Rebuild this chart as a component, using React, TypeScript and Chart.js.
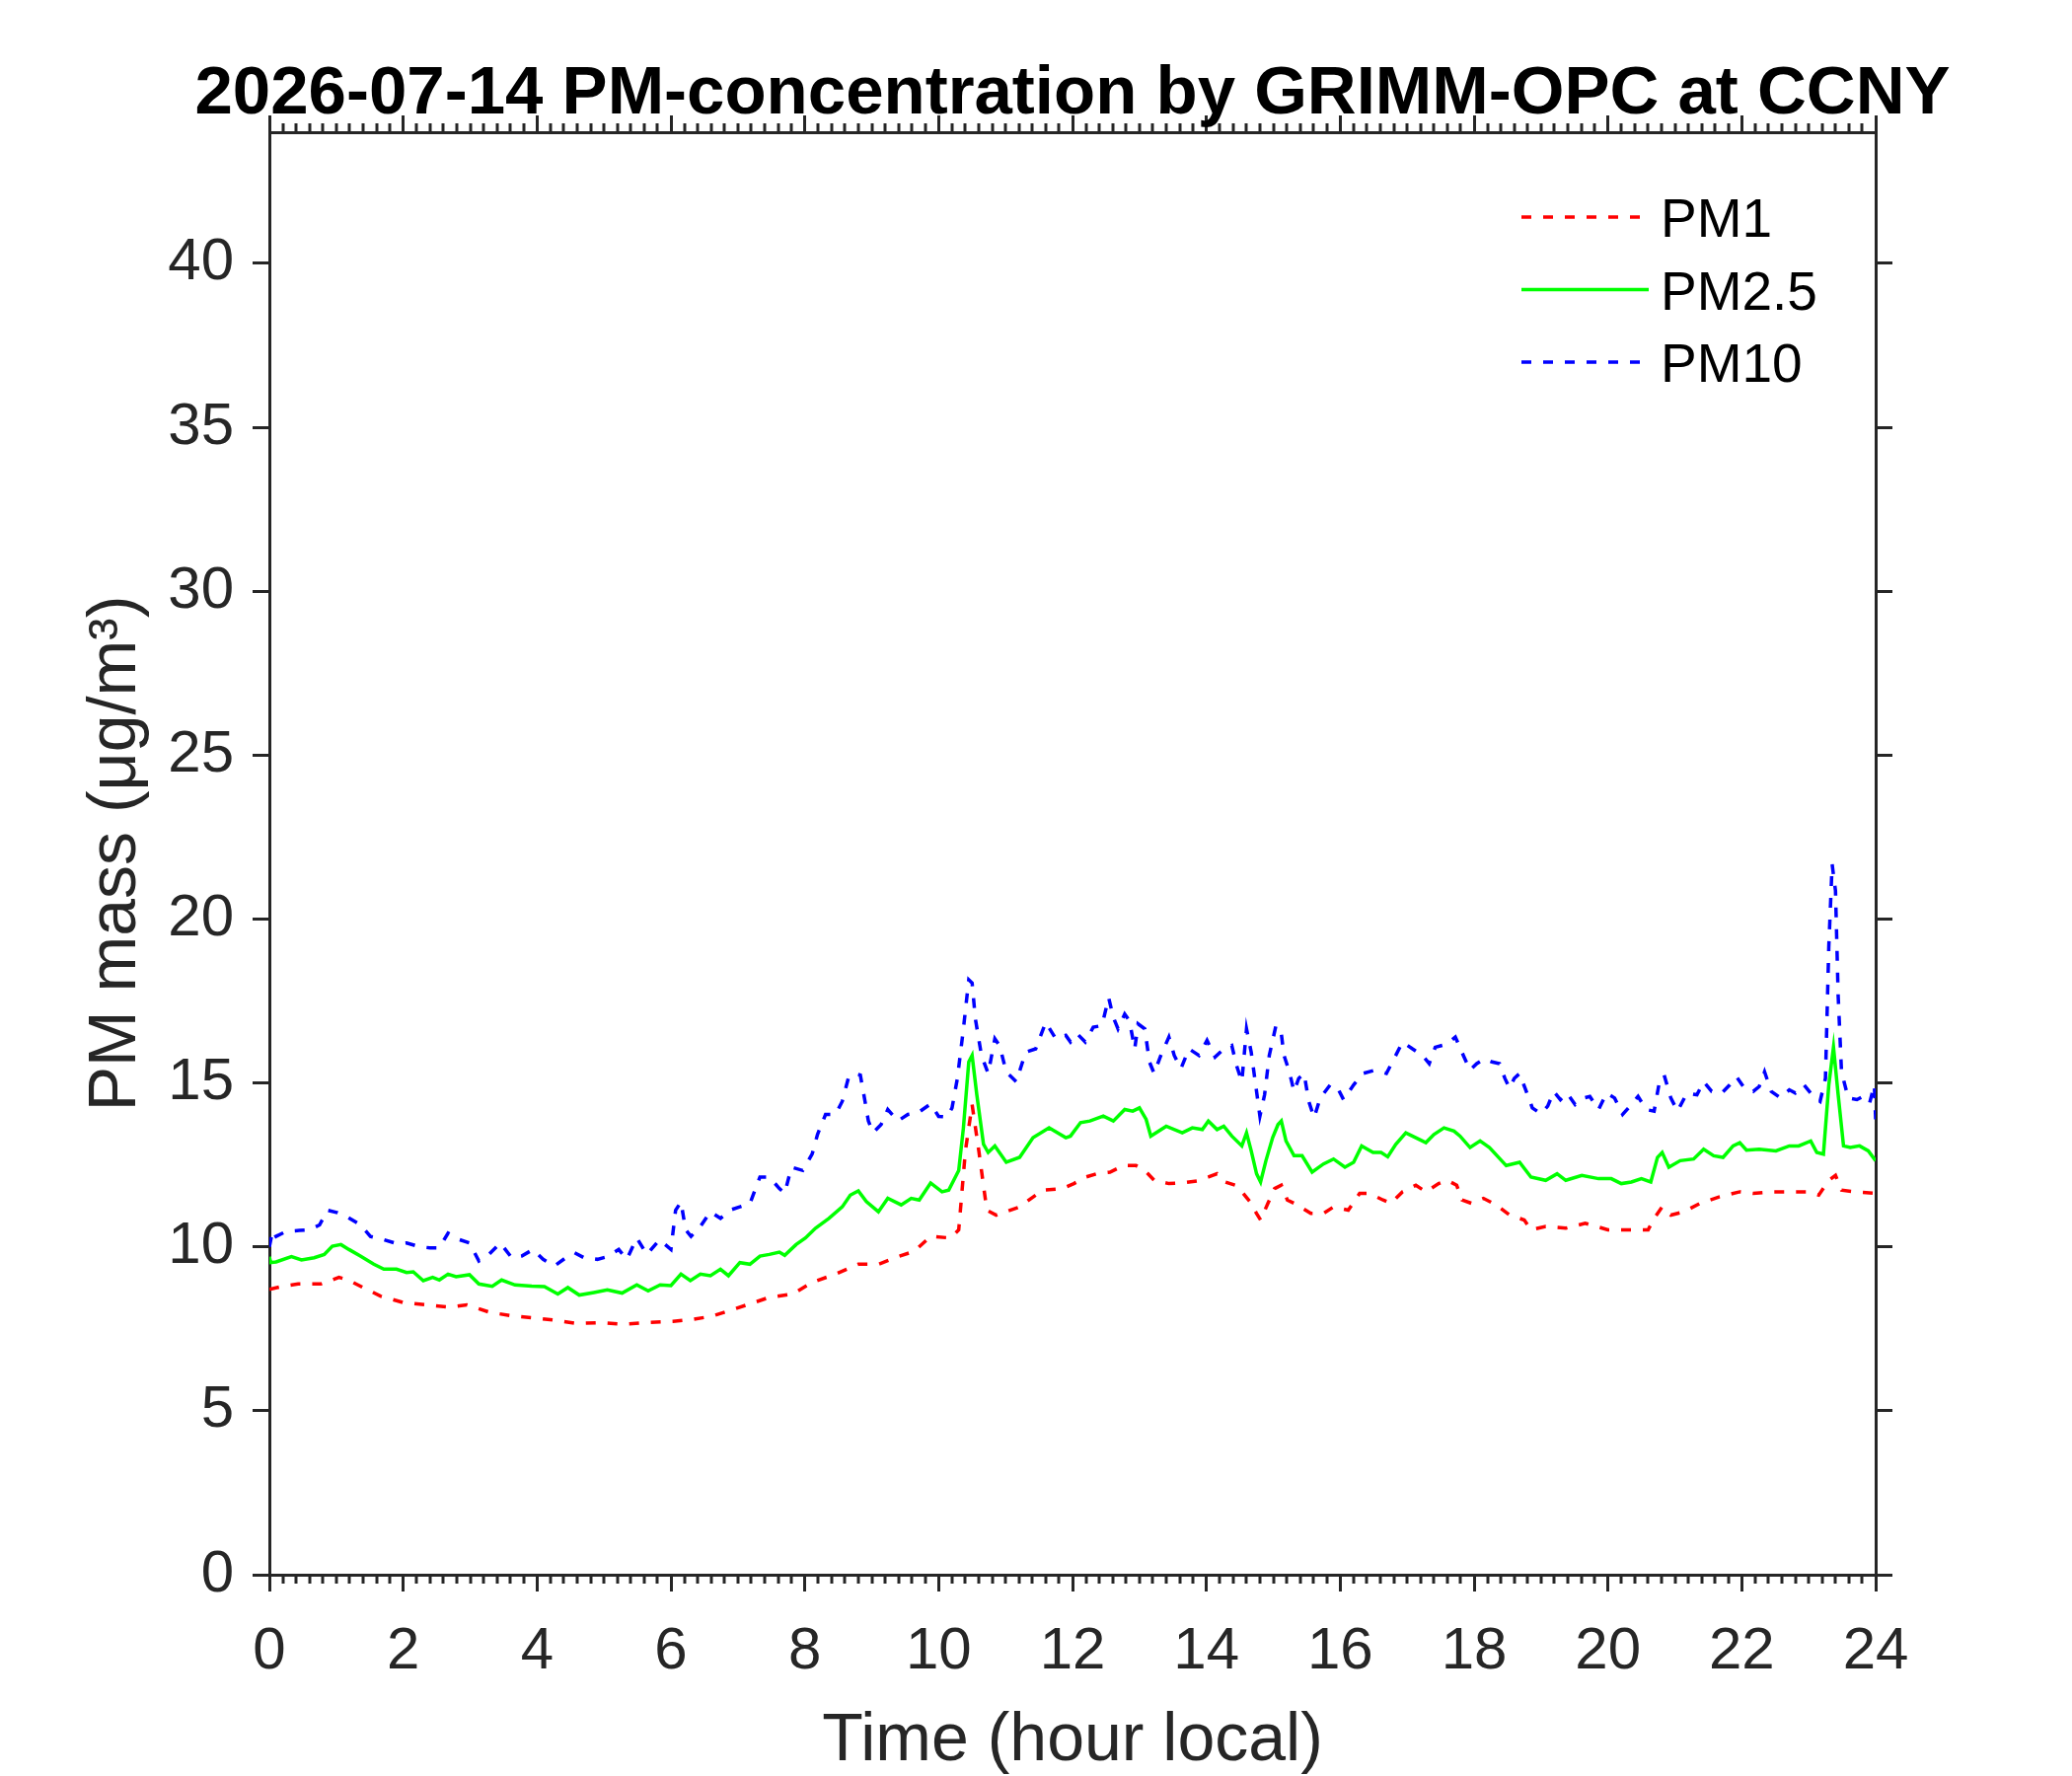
import React, { useEffect, useRef } from 'react';
import { Chart, registerables } from 'chart.js';

Chart.register(...registerables);

const TITLE = '2026-07-14 PM-concentration by GRIMM-OPC at CCNY';
const X_LABEL = 'Time (hour local)';
const Y_LABEL = 'PM mass (μg/m³)';
const FONT = '"Liberation Sans", Arial, Helvetica, sans-serif';
const AXIS = '#262626';

const hourTicks = [0, 2, 4, 6, 8, 10, 12, 14, 16, 18, 20, 22, 24];
const massTicks = [0, 5, 10, 15, 20, 25, 30, 35, 40];

// [hour, µg/m3]
const pm1: [number, number][] = [
  [0, 8.7], [0.2, 8.8], [0.43, 8.87], [0.77, 8.87], [1.04, 9.07], [1.17, 9.0], [1.4, 8.76], [1.66, 8.5],
  [2.0, 8.3], [2.35, 8.23], [2.7, 8.16], [2.95, 8.23], [3.3, 8.0], [3.62, 7.9], [3.97, 7.83], [4.27, 7.76],
  [4.6, 7.66], [4.95, 7.69], [5.3, 7.64], [5.65, 7.69], [6.03, 7.73], [6.3, 7.78], [6.6, 7.88], [6.88, 8.06],
  [7.18, 8.26], [7.47, 8.46], [7.82, 8.56], [8.11, 8.92], [8.46, 9.17], [8.8, 9.47], [9.1, 9.47], [9.39, 9.7],
  [9.64, 9.87], [9.88, 10.32], [10.18, 10.27], [10.3, 10.52], [10.4, 12.93], [10.5, 14.34], [10.6, 12.93],
  [10.72, 11.12], [10.86, 10.97], [11.21, 11.22], [11.55, 11.73], [11.85, 11.78], [12.02, 11.93], [12.2, 12.13],
  [12.36, 12.23], [12.56, 12.28], [12.76, 12.48], [12.95, 12.48], [13.08, 12.33], [13.22, 12.03], [13.44, 11.93],
  [13.64, 11.95], [13.86, 12.01], [14.03, 12.13], [14.16, 12.23], [14.28, 11.98], [14.43, 11.88], [14.55, 11.63],
  [14.65, 11.38], [14.75, 11.02], [14.81, 10.82], [14.92, 11.33], [15.02, 11.78], [15.12, 11.88], [15.21, 11.43],
  [15.36, 11.28], [15.56, 11.02], [15.75, 11.02], [15.9, 11.22], [16.12, 11.12], [16.29, 11.63], [16.44, 11.63],
  [16.64, 11.43], [16.76, 11.33], [16.93, 11.68], [17.13, 11.88], [17.28, 11.68], [17.47, 11.93], [17.6, 12.03],
  [17.74, 11.88], [17.82, 11.43], [17.96, 11.33], [18.14, 11.48], [18.33, 11.28], [18.53, 10.97], [18.75, 10.82],
  [18.85, 10.52], [19.07, 10.62], [19.37, 10.57], [19.66, 10.72], [20.0, 10.52], [20.35, 10.52], [20.6, 10.52],
  [20.69, 10.87], [20.81, 11.22], [20.94, 10.97], [21.13, 11.07], [21.38, 11.33], [21.67, 11.53], [21.97, 11.68],
  [22.17, 11.63], [22.46, 11.68], [22.76, 11.68], [23.0, 11.68], [23.15, 11.58], [23.3, 12.03], [23.4, 12.18],
  [23.49, 11.73], [23.69, 11.68], [24.0, 11.63],
];

const pm25: [number, number][] = [
  [0, 9.7], [0.02, 9.52], [0.1, 9.54], [0.33, 9.7], [0.48, 9.6], [0.67, 9.67], [0.82, 9.77], [0.94, 10.02],
  [1.07, 10.07], [1.19, 9.92], [1.36, 9.72], [1.56, 9.47], [1.71, 9.32], [1.9, 9.32], [2.05, 9.22], [2.15, 9.24],
  [2.3, 8.97], [2.44, 9.07], [2.54, 8.99], [2.67, 9.17], [2.79, 9.09], [2.99, 9.15], [3.13, 8.87], [3.33, 8.8],
  [3.47, 8.99], [3.67, 8.84], [3.92, 8.8], [4.11, 8.79], [4.31, 8.56], [4.46, 8.76], [4.63, 8.53], [4.85, 8.61],
  [5.05, 8.69], [5.27, 8.59], [5.49, 8.84], [5.66, 8.66], [5.84, 8.84], [6.0, 8.82], [6.15, 9.17], [6.29, 8.97],
  [6.44, 9.17], [6.59, 9.12], [6.74, 9.32], [6.86, 9.12], [7.03, 9.52], [7.18, 9.47], [7.33, 9.72], [7.47, 9.77],
  [7.62, 9.84], [7.7, 9.74], [7.87, 10.07], [8.01, 10.27], [8.16, 10.57], [8.36, 10.87], [8.56, 11.22],
  [8.68, 11.58], [8.8, 11.71], [8.92, 11.38], [9.1, 11.07], [9.24, 11.48], [9.44, 11.28], [9.59, 11.48],
  [9.71, 11.43], [9.88, 11.95], [10.05, 11.68], [10.15, 11.73], [10.3, 12.33], [10.37, 13.63], [10.45, 15.64],
  [10.5, 15.84], [10.57, 14.64], [10.67, 13.13], [10.74, 12.88], [10.84, 13.08], [11.01, 12.58], [11.21, 12.73],
  [11.41, 13.33], [11.65, 13.63], [11.9, 13.33], [11.97, 13.38], [12.12, 13.79], [12.26, 13.84], [12.46, 13.99],
  [12.61, 13.84], [12.78, 14.19], [12.9, 14.14], [13.0, 14.24], [13.1, 13.89], [13.17, 13.38], [13.4, 13.68],
  [13.64, 13.48], [13.79, 13.63], [13.94, 13.58], [14.03, 13.84], [14.16, 13.58], [14.26, 13.68], [14.38, 13.38],
  [14.53, 13.08], [14.6, 13.48], [14.67, 12.93], [14.75, 12.23], [14.81, 11.98], [14.89, 12.63], [14.99, 13.33],
  [15.07, 13.73], [15.12, 13.84], [15.19, 13.23], [15.31, 12.78], [15.43, 12.78], [15.58, 12.28], [15.75, 12.53],
  [15.9, 12.68], [16.07, 12.43], [16.2, 12.58], [16.32, 13.08], [16.49, 12.88], [16.61, 12.88], [16.71, 12.75],
  [16.83, 13.13], [16.98, 13.48], [17.13, 13.33], [17.28, 13.18], [17.4, 13.43], [17.55, 13.63], [17.7, 13.53],
  [17.79, 13.38], [17.94, 13.03], [18.09, 13.23], [18.23, 13.03], [18.48, 12.48], [18.68, 12.58], [18.85, 12.13],
  [19.07, 12.03], [19.24, 12.23], [19.37, 12.03], [19.61, 12.18], [19.86, 12.08], [20.05, 12.08], [20.2, 11.93],
  [20.35, 11.98], [20.5, 12.08], [20.64, 11.98], [20.74, 12.73], [20.81, 12.88], [20.91, 12.43], [21.08, 12.63],
  [21.28, 12.68], [21.43, 12.98], [21.58, 12.78], [21.72, 12.73], [21.87, 13.08], [21.97, 13.18], [22.07, 12.95],
  [22.26, 12.98], [22.51, 12.93], [22.71, 13.08], [22.85, 13.08], [23.03, 13.23], [23.12, 12.88], [23.22, 12.83],
  [23.3, 14.94], [23.37, 16.09], [23.44, 14.64], [23.52, 13.08], [23.62, 13.03], [23.76, 13.08], [23.89, 12.93],
  [24.0, 12.63],
];

const pm10: [number, number][] = [
  [0, 10.0], [0.05, 10.5], [0.1, 10.32], [0.25, 10.47], [0.45, 10.5], [0.6, 10.52], [0.75, 10.67], [0.87, 11.12],
  [1.02, 11.04], [1.16, 10.92], [1.36, 10.67], [1.51, 10.32], [1.71, 10.22], [1.9, 10.1], [2.05, 10.12],
  [2.25, 10.0], [2.4, 9.97], [2.54, 9.97], [2.67, 10.42], [2.84, 10.22], [2.99, 10.12], [3.13, 9.57], [3.28, 9.77],
  [3.45, 10.12], [3.62, 9.67], [3.77, 9.72], [3.94, 9.92], [4.09, 9.62], [4.26, 9.42], [4.43, 9.67], [4.56, 9.82],
  [4.7, 9.67], [4.9, 9.62], [5.05, 9.7], [5.22, 9.92], [5.34, 9.62], [5.49, 10.27], [5.64, 9.77], [5.83, 10.22],
  [6.0, 9.92], [6.07, 11.12], [6.15, 11.37], [6.22, 10.52], [6.3, 10.32], [6.44, 10.62], [6.59, 11.07],
  [6.74, 10.87], [6.88, 11.12], [7.03, 11.22], [7.18, 11.32], [7.33, 12.13], [7.47, 12.13], [7.62, 11.78],
  [7.7, 11.63], [7.8, 12.43], [7.97, 12.33], [8.11, 12.83], [8.19, 13.43], [8.31, 14.04], [8.46, 14.04],
  [8.56, 14.44], [8.65, 15.14], [8.75, 15.29], [8.83, 15.24], [8.9, 14.44], [8.95, 13.84], [9.02, 13.48],
  [9.14, 13.73], [9.24, 14.19], [9.39, 13.84], [9.54, 14.04], [9.69, 14.09], [9.88, 14.36], [10.0, 13.98],
  [10.13, 13.96], [10.2, 14.24], [10.28, 15.14], [10.37, 16.65], [10.45, 18.15], [10.5, 18.05], [10.55, 16.94],
  [10.64, 15.84], [10.74, 15.29], [10.84, 16.35], [10.91, 16.14], [11.01, 15.34], [11.16, 15.04], [11.3, 15.94],
  [11.45, 16.04], [11.6, 16.85], [11.75, 16.35], [11.9, 16.45], [11.97, 16.25], [12.07, 16.5], [12.19, 16.25],
  [12.31, 16.7], [12.44, 16.75], [12.54, 17.6], [12.61, 17.0], [12.68, 16.65], [12.78, 17.1], [12.85, 16.9],
  [12.93, 16.04], [12.98, 16.8], [13.08, 16.65], [13.15, 15.64], [13.22, 15.29], [13.32, 15.84], [13.44, 16.4],
  [13.52, 15.84], [13.62, 15.44], [13.74, 16.04], [13.89, 15.84], [14.01, 16.3], [14.13, 15.79], [14.26, 16.04],
  [14.38, 16.14], [14.45, 15.54], [14.53, 15.04], [14.6, 16.65], [14.67, 15.94], [14.75, 14.74], [14.8, 13.99],
  [14.87, 14.64], [14.94, 15.84], [15.04, 16.75], [15.12, 16.5], [15.16, 15.84], [15.24, 15.34], [15.31, 14.74],
  [15.38, 15.14], [15.46, 15.29], [15.53, 14.44], [15.61, 13.94], [15.7, 14.54], [15.85, 14.94], [15.95, 14.89],
  [16.05, 14.49], [16.2, 14.94], [16.34, 15.29], [16.52, 15.39], [16.69, 15.29], [16.83, 15.84], [16.93, 16.25],
  [17.08, 16.04], [17.23, 15.84], [17.33, 15.59], [17.42, 16.09], [17.6, 16.19], [17.72, 16.4], [17.84, 15.84],
  [17.94, 15.39], [18.04, 15.59], [18.16, 15.74], [18.27, 15.64], [18.38, 15.59], [18.46, 15.14], [18.53, 14.84],
  [18.6, 15.14], [18.68, 15.29], [18.78, 14.74], [18.87, 14.24], [19.0, 14.06], [19.1, 14.29], [19.19, 14.74],
  [19.29, 14.49], [19.39, 14.69], [19.51, 14.34], [19.64, 14.54], [19.73, 14.59], [19.86, 14.19], [19.98, 14.69],
  [20.1, 14.54], [20.22, 14.04], [20.35, 14.34], [20.45, 14.59], [20.57, 14.19], [20.69, 14.14], [20.77, 15.04],
  [20.84, 15.24], [20.94, 14.54], [21.04, 14.14], [21.18, 14.69], [21.33, 14.64], [21.43, 15.04], [21.55, 14.74],
  [21.7, 14.69], [21.82, 14.94], [21.92, 15.19], [22.04, 14.84], [22.17, 14.74], [22.26, 14.89], [22.34, 15.34],
  [22.44, 14.74], [22.58, 14.54], [22.71, 14.79], [22.8, 14.69], [22.93, 14.94], [23.05, 14.64], [23.17, 14.44],
  [23.25, 15.14], [23.3, 19.16], [23.35, 21.67], [23.4, 20.86], [23.44, 17.65], [23.49, 15.34], [23.59, 14.54],
  [23.72, 14.49], [23.81, 14.59], [23.91, 14.39], [23.98, 14.94], [24.0, 13.89],
];

const toPoints = (rows: [number, number][]) => rows.map(([x, y]) => ({ x, y }));

// minor ticks every 0.2 h on the bottom and top frame
const minorTicks = {
  id: 'minorTicks',
  afterDraw(chart: any) {
    const { ctx, chartArea, scales } = chart;
    const xs = scales.x;
    ctx.save();
    ctx.strokeStyle = AXIS;
    ctx.lineWidth = 3;
    ctx.beginPath();
    for (let i = 1; i < 120; i++) {
      if (i % 10 === 0) continue;
      const px = Math.round(xs.getPixelForValue(i * 0.2));
      ctx.moveTo(px, chartArea.bottom);
      ctx.lineTo(px, chartArea.bottom + 9);
      ctx.moveTo(px, chartArea.top);
      ctx.lineTo(px, chartArea.top - 9);
    }
    ctx.stroke();
    ctx.restore();
  },
};

// legend sitting inside the axes, top right, no box
const insideLegend = {
  id: 'insideLegend',
  afterDraw(chart: any) {
    const { ctx, chartArea } = chart;
    const x0 = chartArea.right - 359;
    chart.data.datasets.forEach((ds: any, i: number) => {
      const y = chartArea.top + 86 + i * 73.5;
      ctx.save();
      ctx.strokeStyle = ds.borderColor;
      ctx.lineWidth = ds.borderWidth;
      ctx.setLineDash(ds.borderDash || []);
      ctx.beginPath();
      ctx.moveTo(x0, y);
      ctx.lineTo(x0 + 129, y);
      ctx.stroke();
      ctx.setLineDash([]);
      ctx.fillStyle = '#000';
      ctx.font = `55px ${FONT}`;
      ctx.textBaseline = 'middle';
      ctx.textAlign = 'left';
      ctx.fillText(ds.label, x0 + 141, y + 5);
      ctx.restore();
    });
  },
};

const frameGrid = {
  display: true,
  drawOnChartArea: false,
  drawTicks: true,
  tickLength: 17,
  tickWidth: 3,
  lineWidth: 3,
  color: AXIS,
  tickColor: AXIS,
};
const frameBorder = { display: true, color: AXIS, width: 3 };
const tickFont = { family: FONT, size: 60 };
const labelFont = { family: FONT, size: 68, lineHeight: 1 };

const App: React.FC = () => {
  const chartRef = useRef<HTMLCanvasElement | null>(null);

  useEffect(() => {
    if (!chartRef.current) return;
    const ctx = chartRef.current.getContext('2d');
    if (!ctx) return;

    const setHourTicks = (s: any) => { s.ticks = hourTicks.map((v) => ({ value: v })); };
    const setMassTicks = (s: any) => { s.ticks = massTicks.map((v) => ({ value: v })); };

    const myChart = new Chart(ctx, {
      type: 'line',
      data: {
        datasets: [
          {
            label: 'PM1',
            data: toPoints(pm1),
            borderColor: '#ff0000',
            borderWidth: 3.5,
            borderDash: [10, 12],
            pointRadius: 0,
            tension: 0,
          },
          {
            label: 'PM2.5',
            data: toPoints(pm25),
            borderColor: '#00ff00',
            borderWidth: 3.5,
            pointRadius: 0,
            tension: 0,
          },
          {
            label: 'PM10',
            data: toPoints(pm10),
            borderColor: '#0000ff',
            borderWidth: 3.5,
            borderDash: [10, 12],
            pointRadius: 0,
            tension: 0,
          },
        ],
      },
      options: {
        animation: false,
        responsive: false,
        devicePixelRatio: 1,
        layout: { padding: { left: 74, right: 0, top: 0, bottom: 0 } },
        plugins: {
          legend: { display: false },
          tooltip: { enabled: false },
          title: {
            display: true,
            text: TITLE,
            color: '#000',
            font: { family: FONT, size: 69, weight: 'bold', lineHeight: 1 },
            padding: { top: 61, bottom: -13 },
          },
        },
        scales: {
          x: {
            type: 'linear',
            position: 'bottom',
            min: 0,
            max: 24,
            afterBuildTicks: setHourTicks,
            afterFit: (s: any) => { s.height = 204; },
            grid: frameGrid,
            border: frameBorder,
            ticks: { color: AXIS, font: tickFont, padding: 25, maxRotation: 0, autoSkip: false },
            title: { display: true, text: X_LABEL, color: AXIS, font: labelFont, padding: { top: 0, bottom: 1 } },
          },
          x2: {
            type: 'linear',
            position: 'top',
            min: 0,
            max: 24,
            afterBuildTicks: setHourTicks,
            afterFit: (s: any) => { s.height = 17; },
            grid: frameGrid,
            border: frameBorder,
            ticks: { display: false },
          },
          y: {
            type: 'linear',
            position: 'left',
            min: 0,
            max: 44,
            afterBuildTicks: setMassTicks,
            afterFit: (s: any) => { s.width = 199; },
            grid: frameGrid,
            border: frameBorder,
            ticks: { color: AXIS, font: tickFont, padding: 19, autoSkip: false },
            title: { display: true, text: Y_LABEL, color: AXIS, font: labelFont, padding: { top: 10, bottom: 0 } },
          },
          y2: {
            type: 'linear',
            position: 'right',
            min: 0,
            max: 44,
            afterBuildTicks: setMassTicks,
            afterFit: (s: any) => { s.width = 199; },
            grid: frameGrid,
            border: frameBorder,
            ticks: { display: false },
          },
        },
      } as any,
      plugins: [minorTicks, insideLegend],
    });

    return () => {
      myChart.destroy();
    };
  }, []);

  return (
    <div style={{ position: 'absolute', left: 0, top: 0, width: 2100, height: 1800, background: '#fff' }}>
      <canvas ref={chartRef} width={2100} height={1800} style={{ width: 2100, height: 1800 }} />
    </div>
  );
};

export default App;
